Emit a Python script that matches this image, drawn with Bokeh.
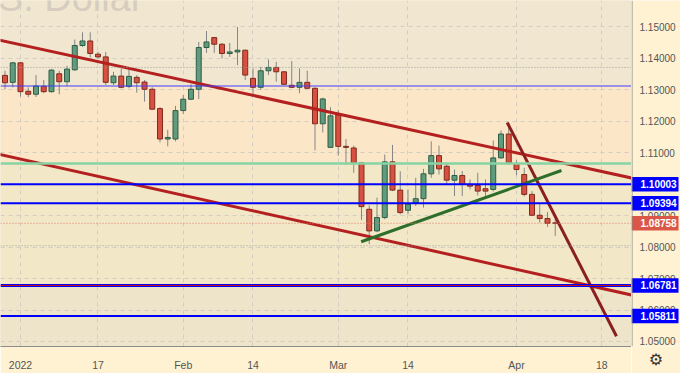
from bokeh.plotting import figure
from bokeh.layouts import row
from bokeh.models import (FixedTicker, Label, Range1d, Span, ColumnDataSource)
from bokeh.core.properties import value
from bokeh.embed import file_html
from bokeh.resources import INLINE

# ---------------- data ----------------
bar_index = list(range(-2, 70))   # trading-day index, 0 = 3 Jan 2022
opens = [1.13461, 1.13240, 1.13860, 1.12955, 1.12861, 1.13114, 1.12943, 1.13512,
         1.13259, 1.13638, 1.14410, 1.14555, 1.14135, 1.14049, 1.13227, 1.13439,
         1.13110, 1.13398, 1.13249, 1.13019, 1.12405, 1.11438, 1.11438, 1.12342,
         1.12703, 1.13019, 1.14347, 1.14663, 1.14451, 1.14157, 1.14207, 1.14261,
         1.13366, 1.13082, 1.13607, 1.13714, 1.13575, 1.13145, 1.13082, 1.13240,
         1.13050, 1.11922, 1.11172, 1.12206, 1.11204, 1.11153, 1.10679, 1.09203,
         1.08516, 1.08940, 1.10711, 1.09813, 1.09171, 1.09414, 1.09541, 1.10331,
         1.10910, 1.10572, 1.10129, 1.10278, 1.09993, 1.09962, 1.09857, 1.09835,
         1.10837, 1.11596, 1.10657, 1.10309, 1.09677, 1.09013, 1.08909, 1.08770]
highs = [1.13607, 1.13891, 1.13891, 1.13082, 1.13471, 1.13313, 1.13660, 1.13607,
         1.13765, 1.14600, 1.14830, 1.14830, 1.14207, 1.14207, 1.13575, 1.13683,
         1.13683, 1.13471, 1.13313, 1.13082, 1.12450, 1.11731, 1.12491, 1.12839,
         1.13177, 1.14524, 1.14871, 1.14682, 1.14492, 1.14492, 1.14998, 1.14283,
         1.13683, 1.13733, 1.13967, 1.13891, 1.13590, 1.13913, 1.13683, 1.13607,
         1.13082, 1.12753, 1.12450, 1.12364, 1.11438, 1.11226, 1.10700, 1.09329,
         1.09573, 1.10942, 1.11250, 1.10413, 1.09835, 1.10205, 1.10489, 1.11362,
         1.11226, 1.10679, 1.10467, 1.10420, 1.10151, 1.10363, 1.10151, 1.11394,
         1.11710, 1.11944, 1.10761, 1.10521, 1.09781, 1.09361, 1.09117, 1.08887]
lows = [1.13019, 1.13082, 1.12785, 1.12766, 1.12775, 1.12892, 1.12911, 1.12861,
        1.13123, 1.13607, 1.14366, 1.14030, 1.13999, 1.13155, 1.13155, 1.13050,
        1.13050, 1.12911, 1.12627, 1.12364, 1.11330, 1.11204, 1.11362, 1.12238,
        1.12680, 1.12703, 1.14176, 1.14176, 1.13999, 1.14049, 1.13787, 1.13313,
        1.12807, 1.12997, 1.13471, 1.13259, 1.13155, 1.13060, 1.12892, 1.13040,
        1.11077, 1.11647, 1.11153, 1.10910, 1.10625, 1.10363, 1.08865, 1.08096,
        1.08475, 1.08887, 1.09781, 1.09045, 1.09045, 1.09307, 1.09256, 1.10205,
        1.10309, 1.09993, 1.09623, 1.09623, 1.09835, 1.09645, 1.09623, 1.09772,
        1.10816, 1.10625, 1.10287, 1.09614, 1.08991, 1.08782, 1.08643, 1.08358]
closes = [1.13227, 1.13860, 1.12943, 1.12861, 1.13123, 1.12943, 1.13629, 1.13259,
          1.13660, 1.14410, 1.14555, 1.14157, 1.14049, 1.13240, 1.13439, 1.13082,
          1.13430, 1.13227, 1.13019, 1.12386, 1.11438, 1.11488, 1.12342, 1.12703,
          1.13019, 1.14347, 1.14524, 1.14451, 1.14157, 1.14207, 1.14261, 1.13471,
          1.13082, 1.13607, 1.13714, 1.13575, 1.13177, 1.13082, 1.13240, 1.13050,
          1.11922, 1.12712, 1.12175, 1.11204, 1.11172, 1.10679, 1.09288, 1.08516,
          1.08940, 1.10711, 1.09813, 1.09098, 1.09361, 1.09541, 1.10331, 1.10910,
          1.10489, 1.10129, 1.10278, 1.09993, 1.09939, 1.09781, 1.09781, 1.10837,
          1.11596, 1.10679, 1.10467, 1.09677, 1.09013, 1.08909, 1.08760, 1.08758]

x_tick_positions = [0, 10, 21, 30, 41, 50, 64, 75]
x_tick_labels = ["2022", "17", "Feb", "14", "Mar", "14", "Apr", "18"]
y_ticks = [1.05, 1.06, 1.07, 1.08, 1.09, 1.10, 1.11, 1.12, 1.13, 1.14, 1.15]
y_tick_labels = ["1.05000", "1.06000", "1.07000", "1.08000", "1.09000", "1.10000",
                 "1.11000", "1.12000", "1.13000", "1.14000", "1.15000"]

# background zones (bottom, top, colour)
zone_bottoms = [1.00, 1.06781, 1.10657, 1.13123]
zone_tops = [1.06781, 1.10657, 1.13123, 1.20]
zone_colors = ["#eee4ca", "#f2e8c7", "#fce6c8", "#f1e7d0"]

# horizontal levels
key_levels = [1.10003, 1.09394, 1.06781, 1.05811]
key_labels = ["1.10003", "1.09394", "1.06781", "1.05811"]
last_price = [1.08758]
last_price_label = ["1.08758"]
thin_blue_level = 1.13123
green_level = 1.10657
dotted_levels = [1.13714, 1.08043]

# trend lines (bar index, price)
upper_channel_x = [-5, 82]
upper_channel_y = [1.14707, 1.10028]
lower_channel_x = [-5, 82]
lower_channel_y = [1.11075, 1.06304]
steep_line_x = [62.8, 76.9]
steep_line_y = [1.11963, 1.05165]
support_line_x = [43.96, 69.8]
support_line_y = [1.08170, 1.10436]

# ---------------- layout constants ----------------
W, H = 680, 373
SCALE_W, BB = 49, 25
FW, FH = W - SCALE_W, H - BB
X0, X1 = -2.58, 78.84
Y0, Y1 = 1.04840, 1.15842
BG = "#fef2d3"

# ---------------- main chart ----------------
p = figure(width=FW, height=H, output_backend="svg", toolbar_location=None,
           x_range=Range1d(X0, X1), y_range=Range1d(Y0, Y1),
           y_axis_location=None, min_border_left=0, min_border_top=0,
           min_border_right=0, min_border_bottom=BB, tools="")
p.background_fill_color = "#f2e8c7"
p.border_fill_color = BG
p.outline_line_color = None

p.quad(left=-100, right=200, bottom=zone_bottoms, top=zone_tops,
       fill_color=zone_colors, line_color=None, level="image")

p.xgrid.ticker = FixedTicker(ticks=x_tick_positions)
p.ygrid.ticker = FixedTicker(ticks=y_ticks)
for g in (p.xgrid, p.ygrid):
    g.grid_line_color = "#cfcac2"
    g.grid_line_dash = "4 4"
    g.grid_line_alpha = 0.9

xa = p.xaxis[0]
xa.ticker = FixedTicker(ticks=x_tick_positions)
xa.major_label_overrides = {k: v for k, v in zip(x_tick_positions, x_tick_labels)}
xa.major_tick_line_color = None
xa.minor_tick_line_color = None
xa.axis_line_color = "#8c8c8c"
xa.major_label_text_color = "#555555"
xa.major_label_text_font = "Liberation Sans"
xa.major_label_text_font_size = "10.5px"
xa.major_label_standoff = 6

# candles
inc = [c >= o for o, c in zip(opens, closes)]
src = ColumnDataSource(dict(
    x=bar_index, o=opens, h=highs, l=lows, c=closes,
    top=[max(o, c) for o, c in zip(opens, closes)],
    bottom=[min(o, c) for o, c in zip(opens, closes)],
    fill=["#5f9c7e" if i else "#d8503f" for i in inc],
    edge=["#2f5c45" if i else "#7f2a20" for i in inc],
))
p.segment(x0="x", y0="l", x1="x", y1="h", source=src, line_color="#858585", line_width=1)
p.vbar(x="x", width=0.64, top="top", bottom="bottom", source=src,
       fill_color="fill", line_color="edge", line_width=1)

# trend lines
p.line(upper_channel_x, upper_channel_y, line_color="#b3201f", line_width=3)
p.line(lower_channel_x, lower_channel_y, line_color="#b3201f", line_width=3)
p.line(steep_line_x, steep_line_y, line_color="#8a1f1f", line_width=3)
p.line(support_line_x, support_line_y, line_color="#2d6e2a", line_width=3)

# horizontal levels
p.add_layout(Span(location=thin_blue_level, dimension="width", line_color="#3d3dff", line_width=1))
for lv in dotted_levels:
    p.add_layout(Span(location=lv, dimension="width", line_color="#9a9a9a",
                      line_width=1, line_dash="1 2"))
p.add_layout(Span(location=green_level, dimension="width", line_color="#86d4a4", line_width=2.5))
p.add_layout(Span(location=last_price[0], dimension="width", line_color="#e07868",
                  line_width=1, line_dash="1 2"))
for lv in key_levels:
    p.add_layout(Span(location=lv, dimension="width", line_color="#0000ff",
                      line_width=3 if lv == 1.06781 else 2))
p.add_layout(Span(location=key_levels[2], dimension="width", line_color="#c81414", line_width=1))

# watermark
p.add_layout(Label(x=143, y=FH - 20, x_units="screen", y_units="screen",
                   text="U.S. Dollar", text_color="#d6cdbf", text_font="Liberation Sans",
                   text_font_size="38px", text_align="right", text_baseline="bottom"))

# ---------------- price scale (shares the price range) ----------------
s = figure(width=SCALE_W, height=H, output_backend="svg", toolbar_location=None,
           x_range=Range1d(0, SCALE_W), y_range=p.y_range,
           x_axis_location="below", y_axis_location=None, tools="",
           min_border_left=0, min_border_right=0, min_border_top=0, min_border_bottom=BB)
s.background_fill_color = BG
s.border_fill_color = BG
s.outline_line_color = None
s.xgrid.visible = False
s.ygrid.visible = False
sa = s.xaxis[0]
sa.ticker = FixedTicker(ticks=[])
sa.axis_line_color = None
sa.major_tick_line_color = None
sa.minor_tick_line_color = None
sa.axis_label = "\u2699"
sa.axis_label_text_font = "DejaVu Sans"
sa.axis_label_text_font_size = "16px"
sa.axis_label_text_font_style = "normal"
sa.axis_label_text_color = "#333333"
sa.axis_label_standoff = 3

s.text(x=8, y=y_ticks, text=y_tick_labels, text_color="#555555",
       text_font=value("Liberation Sans"), text_font_size="10px",
       text_baseline="middle", text_align="left")
s.rect(x=23.5, y=key_levels, width=47, height=14.5, width_units="data",
       height_units="screen", fill_color="#0000ff", line_color=None)
s.rect(x=23.5, y=last_price, width=47, height=14.5, width_units="data",
       height_units="screen", fill_color="#da5748", line_color=None)
s.text(x=9, y=key_levels + last_price, text=key_labels + last_price_label,
       text_color="white", text_font=value("Liberation Sans"), text_font_style="bold",
       text_font_size="10px", text_baseline="middle", text_align="left")
s.add_layout(Span(location=0.5, dimension="height", line_color="#8c8c8c", line_width=1))

layout = row(p, s, spacing=0)
open("out.html", "w").write(file_html(layout, INLINE))
